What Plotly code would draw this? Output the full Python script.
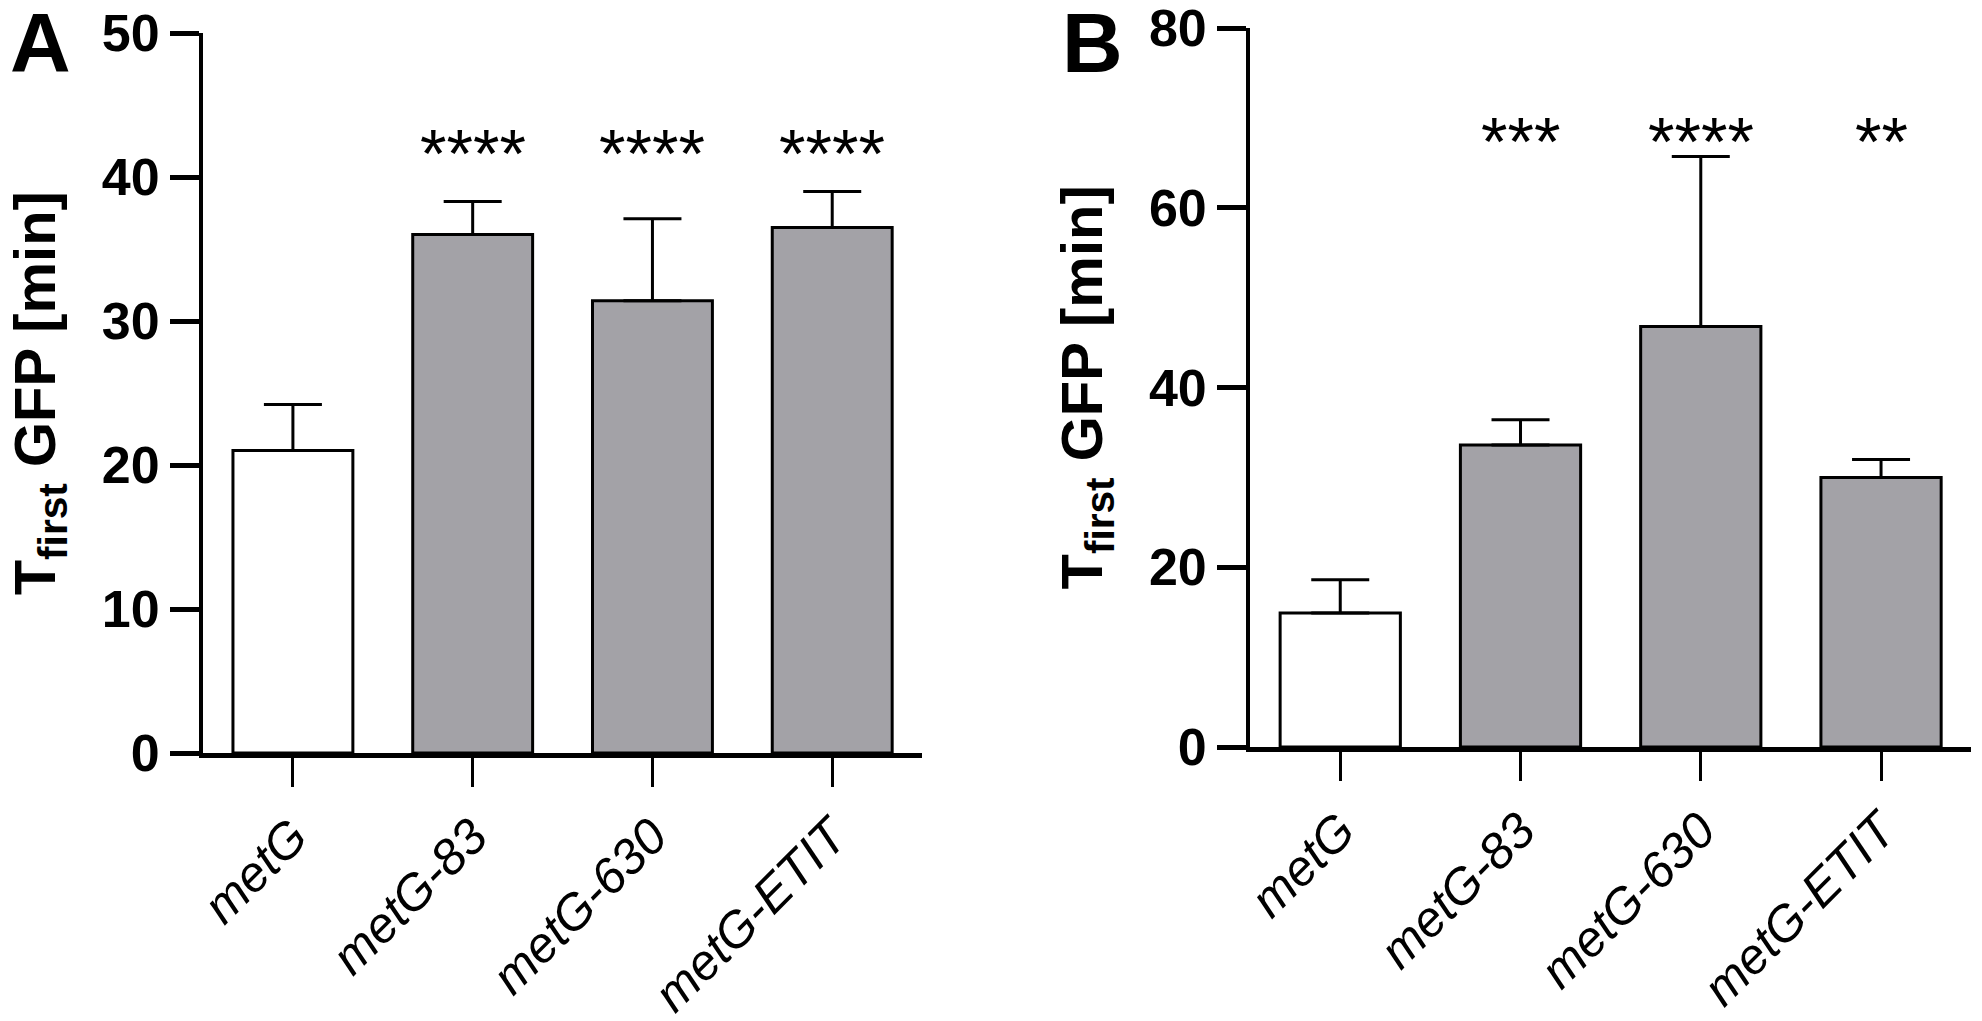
import plotly.graph_objects as go
from plotly.subplots import make_subplots

# data
strains = ["metG", "metG-83", "metG-630", "metG-ETIT"]

a_mean = [21.0, 36.0, 31.4, 36.5]
a_err = [3.2, 2.3, 5.7, 2.5]
a_stars = ["", "****", "****", "****"]

b_mean = [14.9, 33.6, 46.8, 30.0]
b_err = [3.7, 2.8, 18.9, 2.0]
b_stars = ["", "***", "****", "**"]

a_ticks = [0, 10, 20, 30, 40, 50]
b_ticks = [0, 20, 40, 60, 80]

y_title = "<b>T<sub>first</sub> GFP [min]</b>"

FONT = "Liberation Sans, Arial, sans-serif"
GREY = "#a3a2a7"
fills = ["white", GREY, GREY, GREY]

fig = make_subplots(rows=1, cols=2)

panels = [
    (1, a_mean, a_err, a_stars, a_ticks, 41.7),
    (2, b_mean, b_err, b_stars, b_ticks, 67.4),
]

for col, mean, err, stars, ticks, star_y in panels:
    fig.add_trace(
        go.Bar(
            x=strains, y=mean,
            width=0.667,
            marker=dict(color=fills, line=dict(color="black", width=3)),
            error_y=dict(
                type="data", array=err, arrayminus=[0] * len(err),
                symmetric=False, color="black", thickness=3, width=29,
            ),
            showlegend=False,
        ),
        row=1, col=col,
    )
    for s, txt in zip(strains, stars):
        if txt:
            fig.add_annotation(
                x=s, y=star_y, text=txt, showarrow=False,
                xref="x" if col == 1 else "x2",
                yref="y" if col == 1 else "y2",
                yanchor="middle",
                font=dict(family=FONT, size=68, color="black"),
            )

    fig.update_xaxes(
        range=[-0.5, 3.5], showline=True, linecolor="black", linewidth=5,
        ticks="outside", ticklen=29, tickwidth=2.5, tickcolor="black",
        tickangle=-45, showgrid=False, zeroline=False, automargin=False,
        ticklabeloverflow="allow",
        tickfont=dict(family=FONT, size=50, color="black", style="italic"),
        row=1, col=col,
    )
    fig.update_yaxes(
        range=[0, ticks[-1]], tickvals=ticks, showline=True,
        linecolor="black", linewidth=4,
        ticks="outside", ticklen=29, tickwidth=4.5, tickcolor="black",
        showgrid=False, zeroline=False, automargin=False,
        ticklabeloverflow="allow",
        tickfont=dict(family=FONT, size=52, color="black", weight="bold"),
        row=1, col=col,
    )

# place the panels where they sit in the figure
# (page body adds ~8px offset, domains are nudged up/left to compensate)
fig.update_layout(
    xaxis=dict(domain=[0.0984, 0.4612]),
    xaxis2=dict(domain=[0.6267, 0.9905]),
    yaxis=dict(domain=[0.2703, 0.9755]),
    yaxis2=dict(domain=[0.2762, 0.9804]),
)

# y axis titles, rotated, placed left of the tick labels
for xpos, ymid in [(0.0158, 0.6229), (0.5434, 0.6283)]:
    fig.add_annotation(
        x=xpos, y=ymid, xref="paper", yref="paper", text=y_title,
        textangle=-90, showarrow=False, xanchor="center", yanchor="middle",
        font=dict(family=FONT, size=58, color="black"),
    )

# panel letters
for letter, xpos in [("A", 0.0), ("B", 0.531)]:
    fig.add_annotation(
        x=xpos, y=1.0, xref="paper", yref="paper", text="<b>%s</b>" % letter,
        showarrow=False, xanchor="left", yanchor="top", yshift=14,
        font=dict(family=FONT, size=84, color="black"),
    )

fig.update_layout(
    width=1982, height=1021,
    margin=dict(l=0, r=0, t=0, b=0),
    plot_bgcolor="white", paper_bgcolor="white",
    bargap=0.333,
)

fig.write_html("out.html")
